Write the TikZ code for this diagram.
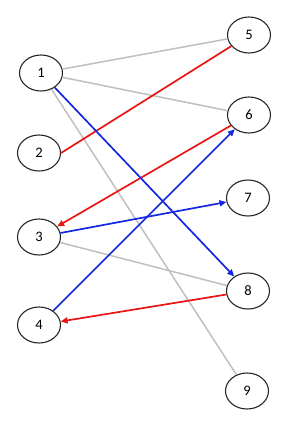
\documentclass[tikz,border=0pt]{standalone}
\usepackage{fontspec}
\setmainfont{Carlito}
\usepackage{xcolor}
\usetikzlibrary{arrows.meta, shapes.geometric}
\definecolor{edgegray}{RGB}{191,191,191}
\definecolor{edgered}{RGB}{235,20,20}
\definecolor{edgeblue}{RGB}{20,40,225}

\begin{document}
\begin{tikzpicture}[
  x=1pt, y=-1pt,
  vertex/.style={draw=black!85, ellipse, line width=1.1pt, minimum width=43pt, minimum height=36pt, inner sep=0pt, font=\fontsize{14.5}{16}\selectfont},
  plain/.style={draw=edgegray, line width=1.5pt},
  redline/.style={draw=edgered, line width=1.7pt},
  blueline/.style={draw=edgeblue, line width=1.7pt},
  >={Triangle[length=7pt, width=6pt]},
]
\useasboundingbox (0,0) rectangle (300,432);
\node[vertex] (n1) at (41,73) {1};
\node[vertex] (n2) at (39,153) {2};
\node[vertex] (n3) at (39,237) {3};
\node[vertex] (n4) at (39,325) {4};
\node[vertex] (n5) at (249,35) {5};
\node[vertex] (n6) at (249,115) {6};
\node[vertex] (n7) at (248,198) {7};
\node[vertex] (n8) at (248,291) {8};
\node[vertex] (n9) at (247,391) {9};

\draw[plain] (n1) -- (n5);
\draw[plain] (n1) -- (n6);
\draw[plain] (n1) -- (n9);
\draw[plain] (n3) -- (n8);
\draw[redline] (n2.east) -- (n5);
\draw[redline, ->] (n6) -- (n3);
\draw[redline, ->] (n8) -- (n4);
\draw[blueline, ->] (n1) -- (n8);
\draw[blueline, ->] (n3) -- (n7);
\draw[blueline, ->] (n4) -- (n6);
\end{tikzpicture}
\end{document}
